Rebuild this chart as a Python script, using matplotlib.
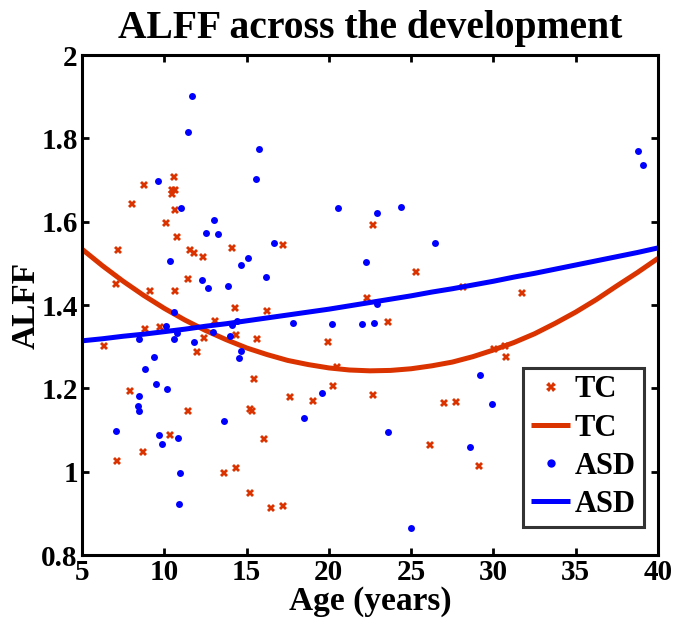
import matplotlib
matplotlib.use("Agg")
import matplotlib.pyplot as plt

plt.rcParams['font.family'] = ['Liberation Serif', 'DejaVu Serif']
plt.rcParams['font.weight'] = 'bold'

# TC (typically developing controls) scatter
tc_age = [7.19, 8.77, 10.59, 10.45, 10.65, 10.45, 8.04, 10.63, 10.10, 10.75,
          14.11, 11.58, 11.82, 12.35, 11.46, 7.09, 9.13, 10.67, 14.28, 16.22,
          8.85, 9.72, 13.10, 6.36, 12.39, 11.99, 14.36, 15.63, 15.43, 7.92,
          11.46, 15.21, 15.35, 10.37, 16.04, 8.73, 7.15, 13.63, 14.34, 15.21,
          16.48, 17.23, 22.70, 17.23, 25.29, 22.33, 23.59, 19.94, 20.49, 20.23,
          17.64, 19.05, 22.70, 26.99, 27.74, 26.14, 31.75, 28.17, 30.03, 30.70,
          30.76, 29.12]
tc_alff = [1.533, 1.689, 1.707, 1.676, 1.676, 1.666, 1.643, 1.628, 1.598, 1.564,
           1.538, 1.531, 1.526, 1.516, 1.462, 1.450, 1.434, 1.434, 1.394, 1.385,
           1.342, 1.348, 1.362, 1.302, 1.322, 1.287, 1.328, 1.318, 1.222, 1.194,
           1.145, 1.150, 1.146, 1.087, 1.079, 1.047, 1.026, 0.997, 1.008, 0.950,
           0.914, 0.917, 1.593, 1.543, 1.479, 1.418, 1.359, 1.311, 1.252, 1.206,
           1.180, 1.170, 1.183, 1.166, 1.167, 1.065, 1.429, 1.444, 1.294, 1.302,
           1.276, 1.014]

# ASD scatter
asd_age = [11.70, 11.46, 15.73, 15.59, 9.64, 11.01, 13.02, 12.55, 13.24, 10.37,
           15.07, 14.66, 16.20, 12.29, 12.67, 13.87, 10.57, 10.12, 8.46, 10.61,
           10.75, 11.82, 12.94, 14.13, 14.44, 13.97, 14.66, 14.56, 9.36, 8.81,
           9.48, 10.14, 8.44, 8.42, 8.44, 13.63, 7.05, 9.68, 10.81, 9.86,
           10.93, 10.89, 20.55, 22.94, 24.38, 16.66, 26.48, 22.23, 22.94, 17.80,
           20.19, 21.99, 22.76, 19.58, 18.50, 23.61, 24.98, 38.76, 39.10, 29.16,
           29.93, 28.57]
asd_alff = [1.902, 1.815, 1.775, 1.702, 1.697, 1.634, 1.604, 1.574, 1.570, 1.506,
            1.513, 1.497, 1.467, 1.461, 1.440, 1.446, 1.384, 1.350, 1.318, 1.319,
            1.332, 1.311, 1.336, 1.353, 1.361, 1.325, 1.290, 1.274, 1.276, 1.246,
            1.211, 1.198, 1.182, 1.158, 1.145, 1.121, 1.098, 1.087, 1.082, 1.067,
            0.997, 0.922, 1.632, 1.622, 1.635, 1.548, 1.550, 1.504, 1.402, 1.357,
            1.355, 1.354, 1.357, 1.189, 1.128, 1.096, 0.866, 1.770, 1.735, 1.233,
            1.162, 1.059]

# Fitted curves
fit_age = [5, 6.25, 7.5, 8.75, 10, 11.25, 12.5, 13.75, 15, 16.25, 17.5, 18.75,
           20, 21.25, 22.5, 23.75, 25, 26.25, 27.5, 28.75, 30, 31.25, 32.5,
           33.75, 35, 36.25, 37.5, 38.75, 40]
tc_fit = [1.534, 1.494, 1.457, 1.423, 1.392, 1.364, 1.339, 1.317, 1.297, 1.281,
          1.267, 1.257, 1.249, 1.244, 1.242, 1.243, 1.247, 1.254, 1.263, 1.276,
          1.292, 1.310, 1.331, 1.356, 1.383, 1.413, 1.446, 1.478, 1.512]
asd_fit = [1.314, 1.319, 1.325, 1.330, 1.336, 1.342, 1.349, 1.355, 1.362, 1.369,
           1.376, 1.383, 1.390, 1.398, 1.406, 1.414, 1.422, 1.431, 1.439, 1.448,
           1.457, 1.467, 1.476, 1.486, 1.496, 1.506, 1.516, 1.526, 1.537]

xticks = [5, 10, 15, 20, 25, 30, 35, 40]
yticks = [0.8, 1.0, 1.2, 1.4, 1.6, 1.8, 2.0]
yticklabels = ['0.8', '1', '1.2', '1.4', '1.6', '1.8', '2']

RED = '#DA3300'
BLUE = '#0000FF'

fig = plt.figure(figsize=(6.75, 6.27), dpi=100)
ax = fig.add_axes([82/675, 1-555/627, (658-82)/675, (555-55)/627])

ax.plot(tc_age, tc_alff, linestyle='none', marker='X', markersize=5.8,
        markeredgewidth=0, color=RED, label='TC')
ax.plot(fit_age, tc_fit, color=RED, linewidth=3.6, label='TC', solid_capstyle='butt')
ax.plot(asd_age, asd_alff, linestyle='none', marker='o', markersize=5,
        markeredgewidth=0, color=BLUE, label='ASD')
ax.plot(fit_age, asd_fit, color=BLUE, linewidth=3.6, label='ASD', solid_capstyle='butt')

ax.set_xlim(5, 40)
ax.set_ylim(0.8, 2.0)
ax.set_xticks(xticks)
ax.set_yticks(yticks)
ax.set_yticklabels(yticklabels)
ax.tick_params(direction='in', length=5, width=2, top=True, right=True,
               labelsize=21, pad=3)
for lbl in ax.get_xticklabels() + ax.get_yticklabels():
    lbl.set_fontweight('bold')
for s in ax.spines.values():
    s.set_linewidth(2.2)

ax.set_title('ALFF across the development', fontsize=28.5, fontweight='bold', pad=12)
ax.set_xlabel('Age (years)', fontsize=24, fontweight='bold', labelpad=0)
ax.set_ylabel('ALFF', fontsize=24, fontweight='bold', labelpad=0)

leg = ax.legend(loc='lower right', bbox_to_anchor=(0.975, 0.057), fontsize=22,
                frameon=True, fancybox=False, edgecolor='black',
                handlelength=1.3, handletextpad=0.15, borderpad=0.25,
                labelspacing=0.3, borderaxespad=0.0, markerscale=1.2)
leg.get_frame().set_linewidth(2.2)
for t in leg.get_texts():
    t.set_fontweight('bold')

fig.savefig('out.png', dpi=100)
